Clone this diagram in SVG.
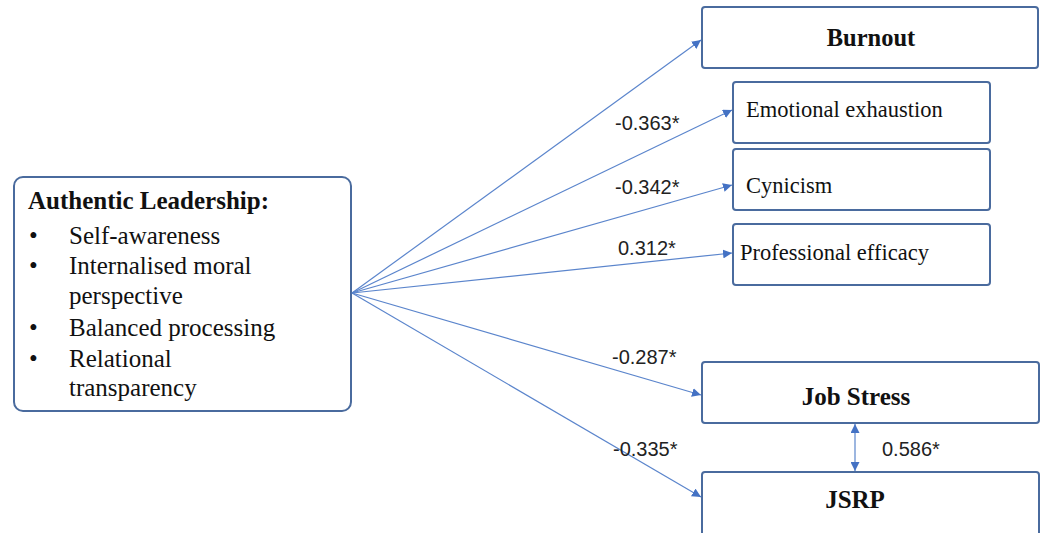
<svg xmlns="http://www.w3.org/2000/svg" width="1044" height="533" viewBox="0 0 1044 533">
<style>
.box{fill:#fff;stroke:#4a6b9e;stroke-width:2}
.t{font-family:"Liberation Serif","Times New Roman",serif;fill:#111}
.b{font-weight:bold}
.sub{font-size:22.5px}
.lbl{font-family:"Liberation Sans",Arial,sans-serif;font-size:20px;fill:#222}
.c{stroke:#5b85cc;stroke-width:1.2;fill:none}
</style>
<defs>
<marker id="ah" viewBox="0 0 10 10" refX="10" refY="5" markerWidth="9" markerHeight="9" markerUnits="userSpaceOnUse" orient="auto-start-reverse">
<path d="M0,0 L10,5 L0,10 z" fill="#4472c4"/>
</marker>
</defs>
<rect width="1044" height="533" fill="#fff"/>
<g id="authentic-leadership">
<rect class="box" x="14" y="177" width="337" height="234" rx="9"/>
<text class="t b" x="28" y="209" font-size="25">Authentic Leadership:</text>
<g class="t" font-size="25">
<text x="29" y="244">•</text><text x="69" y="244">Self-awareness</text>
<text x="29" y="274">•</text><text x="69" y="274">Internalised moral</text>
<text x="69" y="304">perspective</text>
<text x="29" y="336">•</text><text x="69" y="336">Balanced processing</text>
<text x="29" y="367">•</text><text x="69" y="367">Relational</text>
<text x="69" y="396">transparency</text>
</g>
</g>
<g id="burnout">
<rect class="box" x="702" y="7" width="336" height="61" rx="3"/>
<text class="t b" x="871" y="46" font-size="24.5" text-anchor="middle">Burnout</text>
</g>
<g id="emotional-exhaustion">
<rect class="box" x="733" y="82" width="257" height="61" rx="3"/>
<text class="t sub" x="746" y="117">Emotional exhaustion</text>
</g>
<g id="cynicism">
<rect class="box" x="733" y="149" width="257" height="61" rx="3"/>
<text class="t sub" x="746" y="193">Cynicism</text>
</g>
<g id="professional-efficacy">
<rect class="box" x="733" y="224" width="257" height="61" rx="3"/>
<text class="t sub" x="740" y="260">Professional efficacy</text>
</g>
<g id="job-stress">
<rect class="box" x="702" y="362" width="337" height="61" rx="3"/>
<text class="t b" x="856" y="405" font-size="25" text-anchor="middle">Job Stress</text>
</g>
<g id="jsrp">
<rect class="box" x="702" y="472" width="337" height="70" rx="3"/>
<text class="t b" x="855" y="508" font-size="25" text-anchor="middle">JSRP</text>
</g>
<g id="connectors">
<line class="c" x1="352" y1="293" x2="701" y2="40" marker-end="url(#ah)"/>
<line class="c" x1="352" y1="293" x2="732" y2="110" marker-end="url(#ah)"/>
<line class="c" x1="352" y1="293" x2="732" y2="185" marker-end="url(#ah)"/>
<line class="c" x1="352" y1="293" x2="732" y2="253" marker-end="url(#ah)"/>
<line class="c" x1="352" y1="293" x2="701" y2="395" marker-end="url(#ah)"/>
<line class="c" x1="352" y1="293" x2="701" y2="497" marker-end="url(#ah)"/>
<line class="c" x1="855" y1="424" x2="855" y2="471" marker-start="url(#ah)" marker-end="url(#ah)"/>
</g>
<g id="labels">
<text class="lbl" x="615" y="130">-0.363*</text>
<text class="lbl" x="615" y="194">-0.342*</text>
<text class="lbl" x="618" y="255">0.312*</text>
<text class="lbl" x="612" y="364">-0.287*</text>
<text class="lbl" x="613" y="456">-0.335*</text>
<text class="lbl" x="882" y="456">0.586*</text>
</g>
</svg>
